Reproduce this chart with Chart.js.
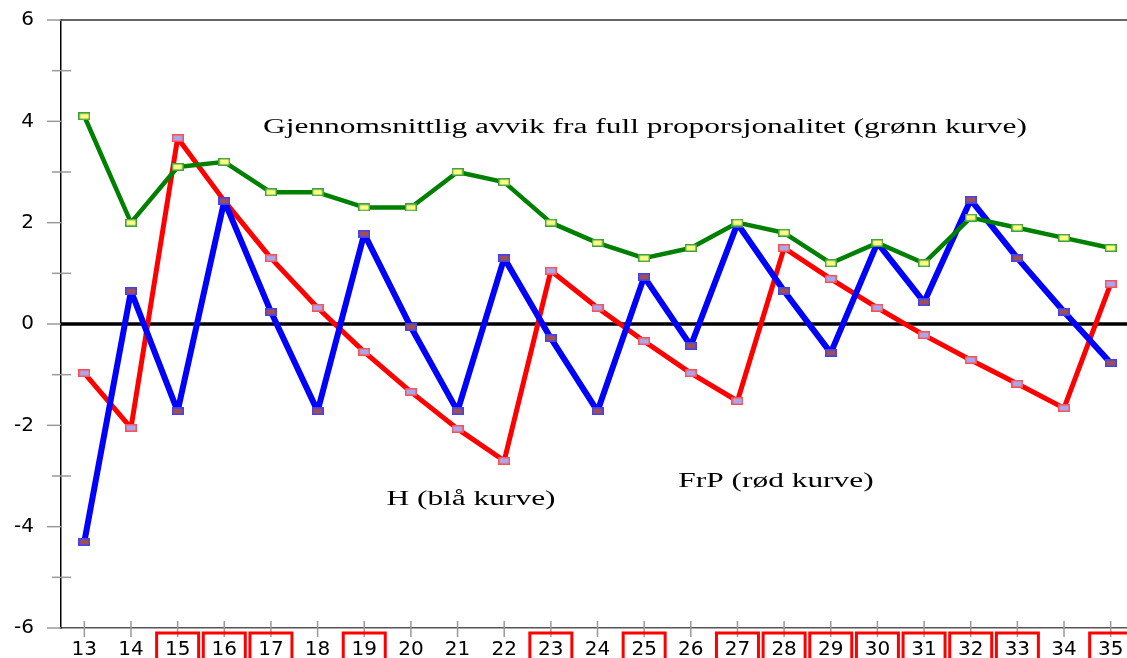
<!DOCTYPE html>
<html>
<head>
<meta charset="utf-8">
<script src="https://cdn.jsdelivr.net/npm/chart.js@4/dist/chart.umd.min.js"></script>
<style>
  html, body { margin: 0; padding: 0; overflow: hidden; background: #fff; }
  #wrap { position: absolute; left: 0; top: 0; width: 1134px; height: 680px; }
</style>
</head>
<body>
<div id="wrap"><canvas id="chart"></canvas></div>
<script>
const rounds = ["13", "14", "15", "16", "17", "18", "19", "20", "21", "22", "23", "24",
  "25", "26", "27", "28", "29", "30", "31", "32", "33", "34", "35"];
const boxedRounds = ["15", "16", "17", "19", "23", "25", "27", "28", "29", "30", "31", "32", "33", "35"];

const avgDeviation = [4.1, 2.0, 3.1, 3.2, 2.6, 2.6, 2.3, 2.3, 3.0, 2.8, 2.0, 1.6,
  1.3, 1.5, 2.0, 1.8, 1.2, 1.6, 1.2, 2.1, 1.9, 1.7, 1.5];
const hValues = [-4.3, 0.65, -1.72, 2.43, 0.24, -1.72, 1.78, -0.06, -1.72, 1.3, -0.28, -1.72,
  0.93, -0.43, 1.98, 0.65, -0.57, 1.6, 0.43, 2.45, 1.3, 0.24, -0.77];
const frpValues = [-0.97, -2.05, 3.67, 2.43, 1.3, 0.32, -0.55, -1.34, -2.07, -2.7, 1.05, 0.32,
  -0.34, -0.97, -1.52, 1.5, 0.89, 0.32, -0.22, -0.71, -1.18, -1.66, 0.79];

const yTicks = [-6, -4, -2, 0, 2, 4, 6];

function marker(fill, stroke) {
  const c = document.createElement("canvas");
  c.width = 12;
  c.height = 8;
  const g = c.getContext("2d");
  g.fillStyle = stroke;
  g.fillRect(0, 0, 12, 8);
  g.fillStyle = fill;
  g.fillRect(1.5, 1.5, 9, 5);
  return c;
}

// the original text is stretched sideways, so draw it scaled
function wideText(ctx, text, cx, cy) {
  ctx.save();
  ctx.translate(cx, cy);
  ctx.scale(1.57, 1);
  ctx.fillText(text, 0, 0);
  ctx.restore();
}

const frame = {
  id: "frame",
  beforeDatasetsDraw(chart) {
    const { ctx, chartArea: a, scales } = chart;
    ctx.save();
    // top border
    ctx.strokeStyle = "#333";
    ctx.lineWidth = 1.5;
    ctx.beginPath();
    ctx.moveTo(a.left, a.top);
    ctx.lineTo(a.right, a.top);
    ctx.stroke();
    // y ticks, major and minor
    ctx.strokeStyle = "#999";
    ctx.lineWidth = 1.5;
    for (let v = -6; v <= 6; v++) {
      const py = scales.y.getPixelForValue(v);
      ctx.beginPath();
      if (v % 2 === 0) {
        ctx.moveTo(a.left - 14, py);
        ctx.lineTo(a.left, py);
      } else {
        ctx.moveTo(a.left - 9, py);
        ctx.lineTo(a.left + 10, py);
      }
      ctx.stroke();
    }
    // x ticks crossing the axis
    rounds.forEach((r, i) => {
      const px = scales.x.getPixelForValue(i);
      ctx.beginPath();
      ctx.moveTo(px, a.bottom - 7);
      ctx.lineTo(px, a.bottom + 9);
      ctx.stroke();
    });
    // zero line
    const y0 = scales.y.getPixelForValue(0);
    ctx.strokeStyle = "#000";
    ctx.lineWidth = 3.5;
    ctx.beginPath();
    ctx.moveTo(a.left, y0);
    ctx.lineTo(a.right, y0);
    ctx.stroke();
    ctx.restore();
  },
  afterDraw(chart) {
    const { ctx, chartArea: a, scales } = chart;
    ctx.save();
    // red boxes around some round labels
    ctx.strokeStyle = "#ff0000";
    ctx.lineWidth = 3;
    rounds.forEach((r, i) => {
      if (!boxedRounds.includes(r)) return;
      const px = scales.x.getPixelForValue(i);
      ctx.strokeRect(px - 21, a.bottom + 5, 42, 40);
    });
    // annotations
    ctx.fillStyle = "#000";
    ctx.font = "20px 'Liberation Serif', 'Times New Roman', serif";
    ctx.textAlign = "center";
    ctx.textBaseline = "middle";
    wideText(ctx, "Gjennomsnittlig avvik fra full proporsjonalitet (grønn kurve)", 645, 128);
    wideText(ctx, "H (blå kurve)", 471, 500);
    wideText(ctx, "FrP (rød kurve)", 776, 482);
    ctx.restore();
  }
};

new Chart(document.getElementById("chart"), {
  type: "line",
  data: {
    labels: rounds,
    datasets: [
      {
        label: "Gjennomsnittlig avvik",
        data: avgDeviation,
        borderColor: "#008000",
        borderWidth: 4.5,
        borderJoinStyle: "bevel",
        pointStyle: marker("#ffff80", "#40a040"),
        tension: 0,
      },
      {
        label: "H",
        data: hValues,
        borderColor: "#0000ff",
        borderWidth: 6,
        borderJoinStyle: "bevel",
        pointStyle: marker("#a05050", "#4040ff"),
        tension: 0,
      },
      {
        label: "FrP",
        data: frpValues,
        borderColor: "#ff0000",
        borderWidth: 5,
        borderJoinStyle: "bevel",
        pointStyle: marker("#a8a8f0", "#ff5050"),
        tension: 0,
      },
    ],
  },
  options: {
    responsive: true,
    maintainAspectRatio: false,
    animation: false,
    layout: { padding: { top: 20, right: 0, left: 0, bottom: 0 }, autoPadding: false },
    plugins: {
      legend: { display: false },
      tooltip: { enabled: false },
    },
    scales: {
      x: {
        offset: true,
        grid: { display: false },
        border: { display: true, color: "#555", width: 1.5 },
        ticks: {
          color: "#000",
          font: { family: "'DejaVu Sans', sans-serif", size: 20 },
          padding: 2,
          maxRotation: 0,
          autoSkip: false,
        },
        afterFit(scale) {
          scale.height = 52;
          scale.paddingLeft = 0;
          scale.paddingRight = 0;
        },
      },
      y: {
        min: -6,
        max: 6,
        afterBuildTicks(scale) { scale.ticks = yTicks.map(v => ({ value: v })); },
        grid: { display: false },
        border: { display: true, color: "#000", width: 1.5 },
        ticks: {
          color: "#000",
          font: { family: "'DejaVu Sans', sans-serif", size: 20 },
          padding: 19,
        },
        afterFit(scale) {
          scale.width = 61;
          scale.paddingTop = 0;
          scale.paddingBottom = 0;
        },
      },
    },
  },
  plugins: [frame],
});
</script>
</body>
</html>
